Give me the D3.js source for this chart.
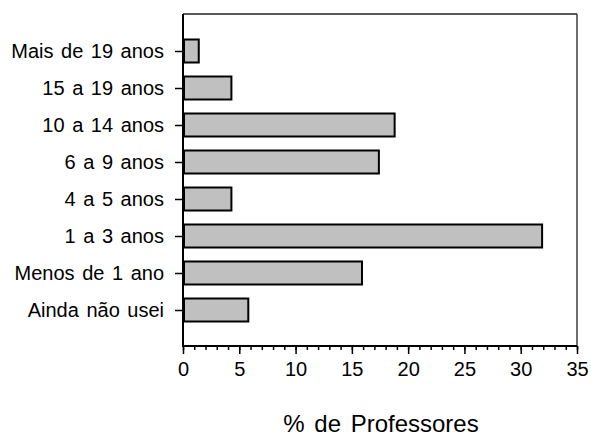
<!DOCTYPE html>
<html>
<head>
<meta charset="utf-8">
<script src="https://cdn.jsdelivr.net/npm/d3@7"></script>
<style>
  html, body { margin: 0; padding: 0; background: #fff; }
  svg { display: block; font-family: "Liberation Sans", Arial, sans-serif; }
</style>
</head>
<body>
<svg id="chart" width="591" height="436"></svg>
<script>
const categories = ["Mais de 19 anos", "15 a 19 anos", "10 a 14 anos", "6 a 9 anos", "4 a 5 anos", "1 a 3 anos", "Menos de 1 ano", "Ainda não usei"];
const values = [1.4, 4.3, 18.8, 17.4, 4.3, 31.9, 15.9, 5.8];
const xTicks = [0, 5, 10, 15, 20, 25, 30, 35];
const xMinorTicks = d3.range(0, 36, 1);
const xTitle = "% de Professores";

(function () {
const svg = d3.select("#chart");
const pLeft = 183, pRight = 577, pTop = 14, pBottom = 346;

const x = d3.scaleLinear().domain([0, 35]).range([pLeft, pRight]);
const y = d3.scalePoint().domain(categories).range([51, 310]);
const barH = 23;

// frame (top & right thin)
svg.append("line").attr("x1", pLeft).attr("x2", pRight).attr("y1", pTop).attr("y2", pTop)
  .attr("stroke", "#222").attr("stroke-width", 1.3);
svg.append("line").attr("x1", pRight).attr("x2", pRight).attr("y1", pTop).attr("y2", pBottom)
  .attr("stroke", "#222").attr("stroke-width", 1.3);

// bars
const data = categories.map((c, i) => ({ c, v: values[i] }));
svg.append("g").selectAll("rect").data(data).join("rect")
  .attr("x", x(0) + 1)
  .attr("y", d => y(d.c) - barH / 2)
  .attr("width", d => x(d.v) - x(0) - 1)
  .attr("height", barH)
  .attr("fill", "#c0c0c0")
  .attr("stroke", "#000")
  .attr("stroke-width", 2);

// minor x ticks
svg.append("g").attr("transform", `translate(0,${pBottom})`)
  .call(d3.axisBottom(x).tickValues(xMinorTicks).tickSize(4).tickFormat(""))
  .call(g => g.select(".domain").remove())
  .call(g => g.selectAll("line").attr("stroke", "#000").attr("stroke-width", 1.5));

// major x axis
svg.append("g").attr("transform", `translate(0,${pBottom})`)
  .call(d3.axisBottom(x).tickValues(xTicks).tickSize(8).tickPadding(8).tickFormat(d3.format("d")))
  .call(g => g.select(".domain").remove())
  .call(g => g.selectAll("line").attr("stroke", "#000").attr("stroke-width", 1.5))
  .call(g => g.selectAll("text").attr("font-size", 20).attr("fill", "#000")
    .attr("font-family", "'Liberation Sans', Arial, sans-serif"));

// y axis
svg.append("g").attr("transform", `translate(${pLeft},0)`)
  .call(d3.axisLeft(y).tickSize(8).tickPadding(11))
  .call(g => g.select(".domain").remove())
  .call(g => g.selectAll("line").attr("stroke", "#000").attr("stroke-width", 1.5))
  .call(g => g.selectAll("text").attr("font-size", 20).attr("fill", "#000")
    .attr("word-spacing", "2px")
    .attr("font-family", "'Liberation Sans', Arial, sans-serif"));

// axis lines (left & bottom, thicker)
svg.append("line").attr("x1", pLeft).attr("x2", pLeft).attr("y1", pTop).attr("y2", pBottom + 1)
  .attr("stroke", "#000").attr("stroke-width", 2);
svg.append("line").attr("x1", pLeft - 1).attr("x2", pRight).attr("y1", pBottom).attr("y2", pBottom)
  .attr("stroke", "#000").attr("stroke-width", 2);

// x title
svg.append("text")
  .attr("x", 381).attr("y", 432)
  .attr("text-anchor", "middle")
  .attr("font-size", 24)
  .attr("word-spacing", "3px")
  .attr("fill", "#000")
  .text(xTitle);
})();
</script>
</body>
</html>
